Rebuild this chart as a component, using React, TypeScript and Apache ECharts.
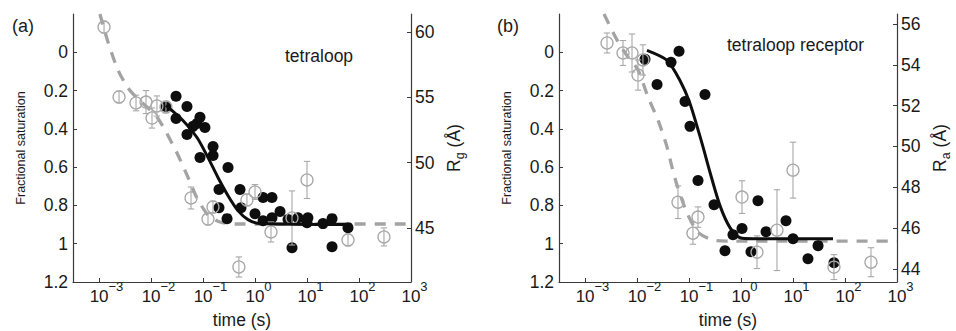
import React, { useEffect, useRef } from "react";
import * as echarts from "echarts";

const FONT = '"Liberation Sans", Arial, Helvetica, sans-serif';
const TXT = "#1a1a1a";
const AX = "#3a3a3a";
const GRAY = "#a8a8a8";
const DASH_GRAY = "#a3a3a3";
const BLACK = "#0e0e0e";

// ---------- tick values ----------
const timeTicks = [0.001, 0.01, 0.1, 1, 10, 100, 1000];
const fracTicks = [0, 0.2, 0.4, 0.6, 0.8, 1, 1.2];
const rgTicksA = [45, 50, 55, 60];
const raTicksB = [44, 46, 48, 50, 52, 54, 56];

// ---------- panel (a): tetraloop ----------
const satA_time = [0.0194, 0.0303, 0.0303, 0.0492, 0.0492, 0.0875, 0.109, 0.0767, 0.156, 0.156, 0.0875, 0.303, 0.203, 0.515, 0.203, 0.29, 0.538, 1.0, 1.43, 2.12, 3.03, 1.43, 2.12, 4.32, 6.71, 10.4, 10.0, 5.15, 20.3, 30.3, 30.3, 61.4, 0.0643];
const satA_value = [0.283, 0.23, 0.346, 0.283, 0.429, 0.34, 0.393, 0.372, 0.492, 0.539, 0.55, 0.602, 0.717, 0.717, 0.812, 0.869, 0.812, 0.843, 0.759, 0.759, 0.832, 0.88, 0.864, 0.874, 0.864, 0.864, 0.89, 1.021, 0.895, 0.869, 1.016, 0.916, 0.387];
const fitSatA_time = [0.0194, 0.0412, 0.0767, 0.125, 0.194, 0.303, 0.471, 0.733, 1.25, 61.4];
const fitSatA_value = [0.277, 0.356, 0.445, 0.55, 0.654, 0.749, 0.827, 0.874, 0.895, 0.9];
const rgA_time = [0.00125, 0.00243, 0.00515, 0.00802, 0.013, 0.01045, 0.0194, 0.0588, 0.1556, 0.1248, 1.0, 0.7, 10, 2.03, 5.15, 0.49, 61.4, 302];
const rgA_value = [60.38, 55.03, 54.57, 54.64, 54.34, 53.42, 54.26, 47.3, 46.61, 45.69, 47.76, 47.15, 48.68, 44.7, 45.77, 42.02, 44.09, 44.32];
const rgA_error = [0.45, 0.45, 0.6, 0.88, 0.77, 0.77, 0.45, 0.84, 0.45, 0.45, 0.57, 0.45, 1.42, 0.77, 2.07, 0.77, 0.45, 0.69];
const fitRgA_time = [0.00104, 0.00149, 0.00232, 0.00361, 0.00538, 0.00838, 0.013, 0.0186, 0.0316, 0.0492, 0.0767, 0.125, 0.212, 0.412, 1000];
const fitRgA_value = [61.38, 59.23, 57.09, 55.72, 54.95, 54.26, 53.5, 52.5, 50.74, 49.06, 47.3, 46.0, 45.46, 45.31, 45.31];

// ---------- panel (b): tetraloop receptor ----------
const satB_time = [0.01426, 0.0451, 0.0643, 0.0243, 0.0838, 0.203, 0.1045, 0.149, 0.303, 0.701, 0.492, 1.045, 1.556, 2.12, 3.03, 7.33, 10.0, 19.4, 30.3, 61.4];
const satB_value = [0.037, 0.052, -0.005, 0.168, 0.257, 0.22, 0.387, 0.67, 0.796, 0.953, 1.037, 0.921, 1.042, 0.775, 0.937, 0.88, 0.974, 1.079, 1.01, 1.099];
const fitSatB_time = [0.01556, 0.0378, 0.0671, 0.1045, 0.178, 0.254, 0.394, 0.614, 0.957, 1.7, 58.7];
const fitSatB_value = [-0.01, 0.042, 0.147, 0.267, 0.476, 0.628, 0.801, 0.916, 0.969, 0.974, 0.974];
const raB_time = [0.00265, 0.00538, 0.00802, 0.013, 0.01045, 0.0614, 0.149, 0.119, 1.045, 2.03, 10.0, 4.92, 61.4, 316];
const raB_value = [55.07, 54.58, 54.58, 54.24, 53.5, 47.27, 46.54, 45.75, 47.52, 44.82, 48.84, 45.9, 44.09, 44.33];
const raB_error = [0.49, 0.61, 0.93, 0.74, 0.74, 0.8, 0.5, 0.54, 0.8, 0.8, 1.37, 1.98, 0.61, 0.71];
const fitRaB_time = [0.00232, 0.00412, 0.00671, 0.01045, 0.0163, 0.0254, 0.0378, 0.0471, 0.0588, 0.0916, 0.149, 0.29, 0.614, 1000];
const fitRaB_value = [56.49, 55.22, 54.38, 53.75, 52.42, 51.29, 49.97, 48.99, 48.11, 46.74, 45.8, 45.41, 45.36, 45.36];

const zip = (a: number[], b: number[]) => a.map((v, i) => [v, b[i]]);
const zip3 = (a: number[], b: number[], c: number[]) => a.map((v, i) => [v, b[i], c[i]]);

function makeX(gridIndex: number) {
  return {
    type: "log",
    logBase: 10,
    gridIndex,
    min: Math.pow(10, -3.5),
    max: 1000,
    name: "time (s)",
    nameLocation: "middle",
    nameGap: 29,
    nameMoveOverlap: false,
    nameTextStyle: { fontSize: 17.5, color: TXT, fontFamily: FONT },
    axisLine: { show: true, onZero: false, lineStyle: { color: AX, width: 1.2 } },
    axisTick: { show: true, inside: true, length: 4, customValues: timeTicks, lineStyle: { color: AX, width: 1 } },
    minorTick: { show: false },
    splitLine: { show: false },
    axisLabel: {
      show: true,
      customValues: timeTicks,
      margin: 6,
      formatter: (v: number) => {
        const e = Math.round(Math.log10(v));
        const s = e < 0 ? "\u2212" + Math.abs(e) : String(e);
        return (e < 0 ? "{bn|10}" : "{bp|10}") + "{s|" + s + "}";
      },
      rich: {
        bn: { fontSize: 17, lineHeight: 17, color: TXT, fontFamily: FONT, padding: [0, 0, 0, 15] },
        bp: { fontSize: 17, lineHeight: 17, color: TXT, fontFamily: FONT, padding: [0, 0, 0, 7] },
        s: { fontSize: 13, lineHeight: 13, color: TXT, fontFamily: FONT, padding: [0, 0, 21, 0] },
      },
    },
  };
}

function makeFrac(gridIndex: number) {
  return {
    type: "value",
    gridIndex,
    position: "left",
    inverse: true,
    min: -0.2,
    max: 1.2,
    name: "Fractional saturation",
    nameLocation: "middle",
    nameRotate: 90,
    nameGap: 46,
    nameMoveOverlap: false,
    nameTextStyle: { fontSize: 12.5, color: TXT, fontFamily: FONT },
    axisLine: { show: true, onZero: false, lineStyle: { color: AX, width: 1.2 } },
    axisTick: { show: true, inside: true, length: 4, customValues: fracTicks, lineStyle: { color: AX, width: 1 } },
    splitLine: { show: false },
    axisLabel: {
      customValues: fracTicks,
      margin: 5,
      fontSize: 17.5,
      color: TXT,
      fontFamily: FONT,
      formatter: (v: number) => String(Math.round(v * 10) / 10),
    },
  };
}

function makeRad(gridIndex: number, min: number, max: number, ticks: number[], sub: string) {
  return {
    type: "value",
    gridIndex,
    position: "right",
    min,
    max,
    name: "{r|R}{s|" + sub + "}{r| (\u00C5)}",
    nameLocation: "middle",
    nameRotate: 90,
    nameGap: 33,
    nameMoveOverlap: false,
    nameTextStyle: {
      color: TXT,
      fontFamily: FONT,
      rich: {
        r: { fontSize: 17.5, lineHeight: 20, color: TXT, fontFamily: FONT },
        s: { fontSize: 12.5, lineHeight: 12.5, padding: [12, 0, 0, 0], color: TXT, fontFamily: FONT },
      },
    },
    axisLine: { show: true, onZero: false, lineStyle: { color: AX, width: 1.2 } },
    axisTick: { show: true, inside: true, length: 4, customValues: ticks, lineStyle: { color: AX, width: 1 } },
    splitLine: { show: false },
    axisLabel: {
      customValues: ticks,
      margin: 4,
      fontSize: 17.5,
      color: TXT,
      fontFamily: FONT,
    },
  };
}

function errorBars(xAxisIndex: number, yAxisIndex: number, data: number[][]) {
  return {
    type: "custom",
    xAxisIndex,
    yAxisIndex,
    z: 3,
    data,
    encode: { x: 0, y: 1 },
    renderItem: (params: any, api: any) => {
      const x = api.value(0);
      const y = api.value(1);
      const e = api.value(2);
      const top = api.coord([x, y + e]);
      const bot = api.coord([x, y - e]);
      const hw = 3.2;
      const style = { stroke: GRAY, lineWidth: 1.1, fill: "none" };
      return {
        type: "group",
        children: [
          { type: "line", shape: { x1: top[0], y1: top[1], x2: bot[0], y2: bot[1] }, style },
          { type: "line", shape: { x1: top[0] - hw, y1: top[1], x2: top[0] + hw, y2: top[1] }, style },
          { type: "line", shape: { x1: bot[0] - hw, y1: bot[1], x2: bot[0] + hw, y2: bot[1] }, style },
        ],
      };
    },
  };
}

function panelSeries(
  xi: number,
  yFrac: number,
  yRad: number,
  sat: number[][],
  fitSat: number[][],
  rad: number[][],
  fitRad: number[][]
) {
  return [
    {
      type: "line",
      xAxisIndex: xi,
      yAxisIndex: yRad,
      data: fitRad,
      symbol: "none",
      smooth: 0.25,
      z: 1,
      lineStyle: { color: DASH_GRAY, width: 3.3, type: [11, 9], cap: "butt" },
    },
    {
      type: "scatter",
      xAxisIndex: xi,
      yAxisIndex: yFrac,
      data: sat,
      symbol: "circle",
      symbolSize: 11,
      z: 2,
      itemStyle: { color: BLACK, opacity: 1 },
    },
    errorBars(xi, yRad, rad),
    {
      type: "scatter",
      xAxisIndex: xi,
      yAxisIndex: yRad,
      data: rad.map((d) => [d[0], d[1]]),
      symbol: "circle",
      symbolSize: 12,
      z: 4,
      itemStyle: { color: "rgba(255,255,255,0)", borderColor: GRAY, borderWidth: 1.3, opacity: 1 },
    },
    {
      type: "line",
      xAxisIndex: xi,
      yAxisIndex: yFrac,
      data: fitSat,
      symbol: "none",
      smooth: 0.25,
      z: 5,
      lineStyle: { color: BLACK, width: 3 },
    },
  ];
}

export default function App() {
  const ref = useRef<HTMLDivElement>(null);

  useEffect(() => {
    if (!ref.current) return;
    const chart = echarts.init(ref.current, null, { renderer: "svg" });
    const textStyle = { fontFamily: FONT, fill: TXT };
    chart.setOption({
      animation: false,
      backgroundColor: "#ffffff",
      textStyle: { fontFamily: FONT },
      grid: [
        { left: 73, top: 14, width: 338, height: 268, containLabel: false, outerBoundsMode: "none" },
        { left: 559, top: 14, width: 338, height: 268, containLabel: false, outerBoundsMode: "none" },
      ],
      xAxis: [makeX(0), makeX(1)],
      yAxis: [
        makeFrac(0),
        makeRad(0, 40.87, 61.38, rgTicksA, "g"),
        makeFrac(1),
        makeRad(1, 43.36, 56.49, raTicksB, "a"),
      ],
      series: [
        ...panelSeries(0, 0, 1, zip(satA_time, satA_value), zip(fitSatA_time, fitSatA_value), zip3(rgA_time, rgA_value, rgA_error), zip(fitRgA_time, fitRgA_value)),
        ...panelSeries(1, 2, 3, zip(satB_time, satB_value), zip(fitSatB_time, fitSatB_value), zip3(raB_time, raB_value, raB_error), zip(fitRaB_time, fitRaB_value)),
      ],
      graphic: [
        { type: "text", x: 12, y: 26, style: { ...textStyle, text: "(a)", fontSize: 18, verticalAlign: "middle" } },
        { type: "text", x: 497, y: 26, style: { ...textStyle, text: "(b)", fontSize: 18, verticalAlign: "middle" } },
        { type: "text", x: 285, y: 56, style: { ...textStyle, text: "tetraloop", fontSize: 17.5, verticalAlign: "middle" } },
        { type: "text", x: 727, y: 45, style: { ...textStyle, text: "tetraloop receptor", fontSize: 17.5, verticalAlign: "middle" } },
      ],
    });
    return () => chart.dispose();
  }, []);

  return (
    <div
      ref={ref}
      style={{ position: "fixed", left: 0, top: 0, width: 956, height: 331, background: "#fff" }}
    />
  );
}
